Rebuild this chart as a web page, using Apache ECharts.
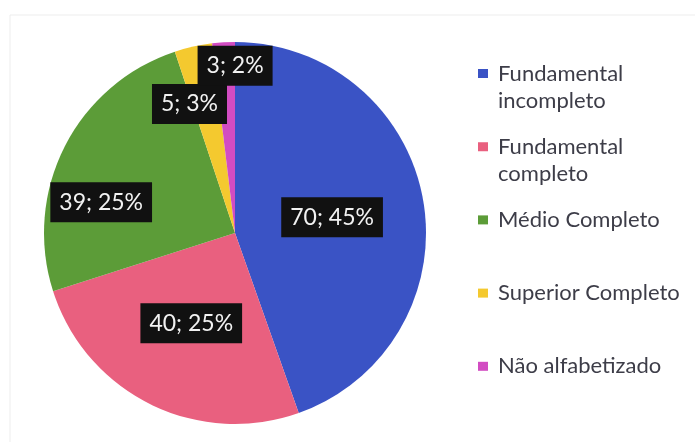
<!DOCTYPE html>
<html>
<head>
<meta charset="utf-8">
<script src="https://cdn.jsdelivr.net/npm/echarts@6/dist/echarts.min.js"></script>
<style>
  html, body { margin: 0; padding: 0; background: #fff; }
  #chart { width: 695px; height: 442px; }
</style>
</head>
<body>
<div id="chart"></div>
<script>
// escolaridade
const categories = ['Fundamental incompleto', 'Fundamental completo', 'Médio Completo', 'Superior Completo', 'Não alfabetizado'];
const legendLabels = ['Fundamental\nincompleto', 'Fundamental\ncompleto', 'Médio Completo', 'Superior Completo', 'Não alfabetizado'];
const counts = [70, 40, 39, 5, 3];

const colors = ['#3a53c5', '#e9607f', '#5c9c38', '#f4c92f', '#d24cc2'];
// Excel moved some labels away from the slice middle
const labelOffsets = [[0, 1], [0, 2], [-46, 14], [-24, -33], [6, -69]];

const myChart = echarts.init(document.getElementById('chart'));

// square on the first line: tall icon box with the square drawn at its top
const lineH = 27;
const legends = categories.map((name, i) => {
  const twoLines = legendLabels[i].indexOf('\n') >= 0;
  const h = twoLines ? 9 + lineH : 9;
  return {
    data: [name],
    orient: 'vertical',
    left: 478,
    top: 60 + i * 73.2,
    padding: 0,
    itemWidth: 10,
    itemHeight: h,
    icon: twoLines ? 'path://M0,0L10,0L10,9L0,9Z M0,' + h + 'L10,' + h + 'Z' : 'rect',
    itemStyle: { borderWidth: 0 },
    formatter: () => legendLabels[i],
    textStyle: {
      fontFamily: 'Lato',
      fontSize: 22,
      lineHeight: lineH,
      color: '#3d3d48',
      padding: [0, 0, 0, 5]
    }
  };
});

const option = {
  color: colors,
  animation: false,
  legend: legends,
  graphic: [{
    type: 'rect',
    shape: { x: 10, y: 15, width: 700, height: 440 },
    style: { fill: 'none', stroke: '#ededed', lineWidth: 1 },
    silent: true
  }],
  series: [{
    type: 'pie',
    center: [235, 233],
    radius: 191,
    startAngle: 90,
    clockwise: true,
    avoidLabelOverlap: false,
    labelLine: { show: false },
    emphasis: { disabled: true },
    label: {
      show: true,
      position: 'inside',
      formatter: p => p.value + '; ' + Math.round(p.percent) + '%',
      fontFamily: 'Lato',
      fontSize: 23,
      lineHeight: 28,
      color: '#f2f2f2',
      backgroundColor: '#111111',
      padding: [6, 9]
    },
    labelLayout: p => ({
      dx: labelOffsets[p.dataIndex][0],
      dy: labelOffsets[p.dataIndex][1],
      hideOverlap: false
    }),
    data: categories.map((name, i) => ({ name: name, value: counts[i] }))
  }]
};

myChart.setOption(option);
</script>
</body>
</html>
